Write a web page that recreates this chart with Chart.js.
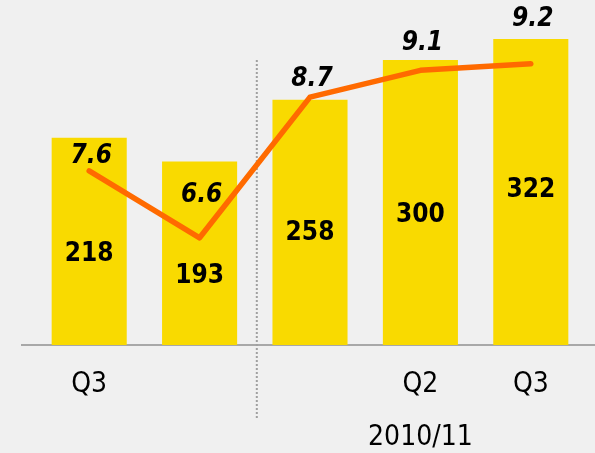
<!DOCTYPE html>
<html>
<head>
<meta charset="utf-8">
<script src="https://cdn.jsdelivr.net/npm/chart.js@4"></script>
<style>
  html, body { margin: 0; padding: 0; background: #f0f0f0; }
  #wrap { width: 595px; height: 453px; position: relative; }
</style>
</head>
<body>
<div id="wrap"><canvas id="chart" width="595" height="453"></canvas></div>
<script>
// chart values
const categories = ['Q3', '', '', 'Q2', 'Q3'];
const barValues = [218, 193, 258, 300, 322];
const lineValues = [7.6, 6.6, 8.7, 9.1, 9.2];
const groupLabel = '2010/11';

// hand placement of the value labels (pixels)
const barLabelShift = [13, 23, 11, 13, -2];
const lineLabelShift = [-15, -43, -18, -27, -44];

const FONT = '"DejaVu Sans Condensed", "DejaVu Sans", sans-serif';

const decorPlugin = {
    id: 'decor',
    beforeDatasetsDraw(chart) {
        const ctx = chart.ctx;
        const x = chart.scales.x;
        const area = chart.chartArea;
        ctx.save();
        // baseline
        ctx.strokeStyle = '#a8a8a8';
        ctx.lineWidth = 2;
        ctx.beginPath();
        ctx.moveTo(21, area.bottom);
        ctx.lineTo(chart.width, area.bottom);
        ctx.stroke();
        // dotted separator
        const sx = (x.getPixelForValue(1) + x.getPixelForValue(2)) / 2 + 2;
        ctx.strokeStyle = '#a0a0a0';
        ctx.lineWidth = 2;
        ctx.setLineDash([2, 2]);
        ctx.beginPath();
        ctx.moveTo(sx, 60);
        ctx.lineTo(sx, 418);
        ctx.stroke();
        ctx.restore();
    },
    afterDatasetsDraw(chart) {
        const ctx = chart.ctx;
        const x = chart.scales.x;
        const y = chart.scales.y;
        const y2 = chart.scales.y2;
        ctx.save();
        ctx.fillStyle = '#000';
        ctx.textAlign = 'center';
        ctx.textBaseline = 'middle';
        // bar values
        ctx.font = 'bold 26px ' + FONT;
        barValues.forEach((v, i) => {
            const mid = (y.getPixelForValue(v) + y.getPixelForValue(0)) / 2;
            ctx.fillText(String(v), x.getPixelForValue(i), mid + barLabelShift[i]);
        });
        // line values
        ctx.font = 'italic bold 26px ' + FONT;
        lineValues.forEach((v, i) => {
            ctx.fillText(v.toFixed(1), x.getPixelForValue(i) + 2, y2.getPixelForValue(v) + lineLabelShift[i]);
        });
        // category labels
        ctx.font = '28px ' + FONT;
        categories.forEach((c, i) => {
            if (c) ctx.fillText(c, x.getPixelForValue(i), 385);
        });
        ctx.fillText(groupLabel, x.getPixelForValue(3), 438);
        ctx.restore();
    }
};

new Chart(document.getElementById('chart').getContext('2d'), {
    type: 'bar',
    data: {
        labels: categories,
        datasets: [
            {
                type: 'line',
                data: lineValues,
                yAxisID: 'y2',
                borderColor: '#ff6a00',
                borderWidth: 5.5,
                borderCapStyle: 'round',
                borderJoinStyle: 'round',
                pointRadius: 0,
                tension: 0,
                fill: false,
                order: 0
            },
            {
                type: 'bar',
                data: barValues,
                yAxisID: 'y',
                backgroundColor: '#f9da00',
                categoryPercentage: 0.68,
                barPercentage: 1,
                order: 1
            }
        ]
    },
    options: {
        responsive: false,
        animation: false,
        layout: { padding: { left: 34, right: 9, top: 0, bottom: 108 } },
        plugins: { legend: { display: false }, tooltip: { enabled: false } },
        scales: {
            x: { display: false },
            y: { display: false, min: 0, max: 363 },
            y2: { display: false, min: 5, max: 10.15 }
        }
    },
    plugins: [decorPlugin]
});
</script>
</body>
</html>
